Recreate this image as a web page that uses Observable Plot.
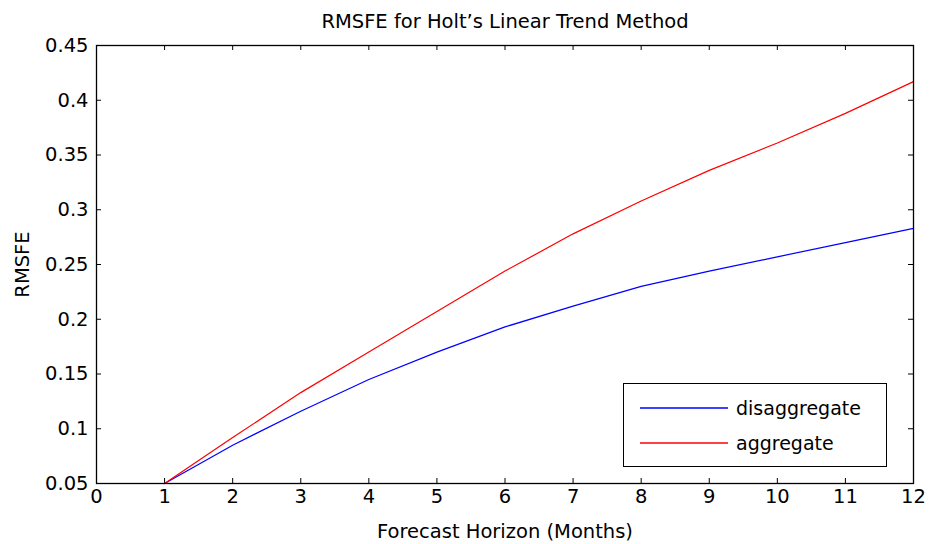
<!DOCTYPE html>
<html>
<head>
<meta charset="utf-8">
<script src="https://cdn.jsdelivr.net/npm/d3@7"></script>
<script src="https://cdn.jsdelivr.net/npm/@observablehq/plot@0.6"></script>
<style>
  html, body { margin: 0; padding: 0; background: #fff; }
  #wrap { position: relative; width: 930px; height: 544px; font-family: "DejaVu Sans", sans-serif; }
  #legend { position: absolute; left: 623px; top: 383px; width: 262px; height: 82px; border: 1px solid #000; background: #fff; }
  #legend svg { position: absolute; left: 0; top: 0; }
  .lbl { position: absolute; left: 112px; font-size: 19px; white-space: nowrap; line-height: 22px; color: #000; }
</style>
</head>
<body>
<div id="wrap"></div>
<script>
const title = "RMSFE for Holt\u2019s Linear Trend Method";
const xLabel = "Forecast Horizon (Months)";
const yLabel = "RMSFE";
const months = [1, 2, 3, 4, 5, 6, 7, 8, 9, 10, 11, 12];
const disaggregate = [0.05, 0.085, 0.116, 0.145, 0.170, 0.193, 0.212, 0.230, 0.244, 0.257, 0.270, 0.283];
const aggregate = [0.05, 0.092, 0.133, 0.170, 0.207, 0.244, 0.278, 0.308, 0.336, 0.361, 0.388, 0.417];
const seriesNames = ["disaggregate", "aggregate"];
const seriesColors = ["#0000ff", "#ff0000"];
const xTicks = [0, 1, 2, 3, 4, 5, 6, 7, 8, 9, 10, 11, 12];
const yTicks = [0.05, 0.1, 0.15, 0.2, 0.25, 0.3, 0.35, 0.4, 0.45];

const data = [];
seriesNames.forEach((s, i) => {
  const vals = i === 0 ? disaggregate : aggregate;
  months.forEach((m, j) => data.push({series: s, month: m, value: vals[j]}));
});

const W = 930, H = 544, mL = 96, mR = 17, mT = 45, mB = 61;
const fw = W - mL - mR, fh = H - mT - mB;
const tk = 5;
const FS = 19.5;

const chart = Plot.plot({
  width: W, height: H,
  marginLeft: mL, marginRight: mR, marginTop: mT, marginBottom: mB,
  style: {fontFamily: "DejaVu Sans, sans-serif", fontSize: FS + "px", color: "#000", background: "#fff"},
  x: {domain: [0, 12]},
  y: {domain: [0.05, 0.45]},
  color: {domain: seriesNames, range: seriesColors},
  marks: [
    Plot.axisX({ticks: xTicks, tickSize: 0, tickPadding: 6, fontSize: FS, label: xLabel, labelAnchor: "center", labelArrow: "none", labelOffset: 54, tickFormat: d => String(d)}),
    Plot.axisY({ticks: yTicks, tickSize: 0, tickPadding: 8, fontSize: FS, label: yLabel, labelAnchor: "center", labelArrow: "none", labelOffset: 81, tickFormat: d => String(+d.toFixed(2))}),
    Plot.tickX(xTicks, {x: d => d, insetTop: fh - tk, stroke: "#000", strokeWidth: 1}),
    Plot.tickX(xTicks, {x: d => d, insetBottom: fh - tk, stroke: "#000", strokeWidth: 1}),
    Plot.tickY(yTicks, {y: d => d, insetRight: fw - tk, stroke: "#000", strokeWidth: 1}),
    Plot.tickY(yTicks, {y: d => d, insetLeft: fw - tk, stroke: "#000", strokeWidth: 1}),
    Plot.line(data, {x: "month", y: "value", z: "series", stroke: "series", strokeWidth: 1.2}),
    Plot.frame({stroke: "#000", strokeWidth: 1.3}),
    Plot.text([title], {frameAnchor: "top", dy: -31, fontSize: 19.5, fill: "#000"})
  ]
});

const wrap = document.getElementById("wrap");
wrap.appendChild(chart);

const legend = document.createElement("div");
legend.id = "legend";
const NS = "http://www.w3.org/2000/svg";
const lsvg = document.createElementNS(NS, "svg");
lsvg.setAttribute("width", "262");
lsvg.setAttribute("height", "82");
legend.appendChild(lsvg);
seriesNames.forEach((s, i) => {
  const cy = i === 0 ? 24 : 59;
  const ln = document.createElementNS(NS, "line");
  ln.setAttribute("x1", "16");
  ln.setAttribute("x2", "104");
  ln.setAttribute("y1", cy);
  ln.setAttribute("y2", cy);
  ln.setAttribute("stroke", seriesColors[i]);
  ln.setAttribute("stroke-width", "1.6");
  lsvg.appendChild(ln);
  const lb = document.createElement("div");
  lb.className = "lbl";
  lb.textContent = s;
  lb.style.top = (cy - 11) + "px";
  legend.appendChild(lb);
});
wrap.appendChild(legend);
</script>
</body>
</html>
